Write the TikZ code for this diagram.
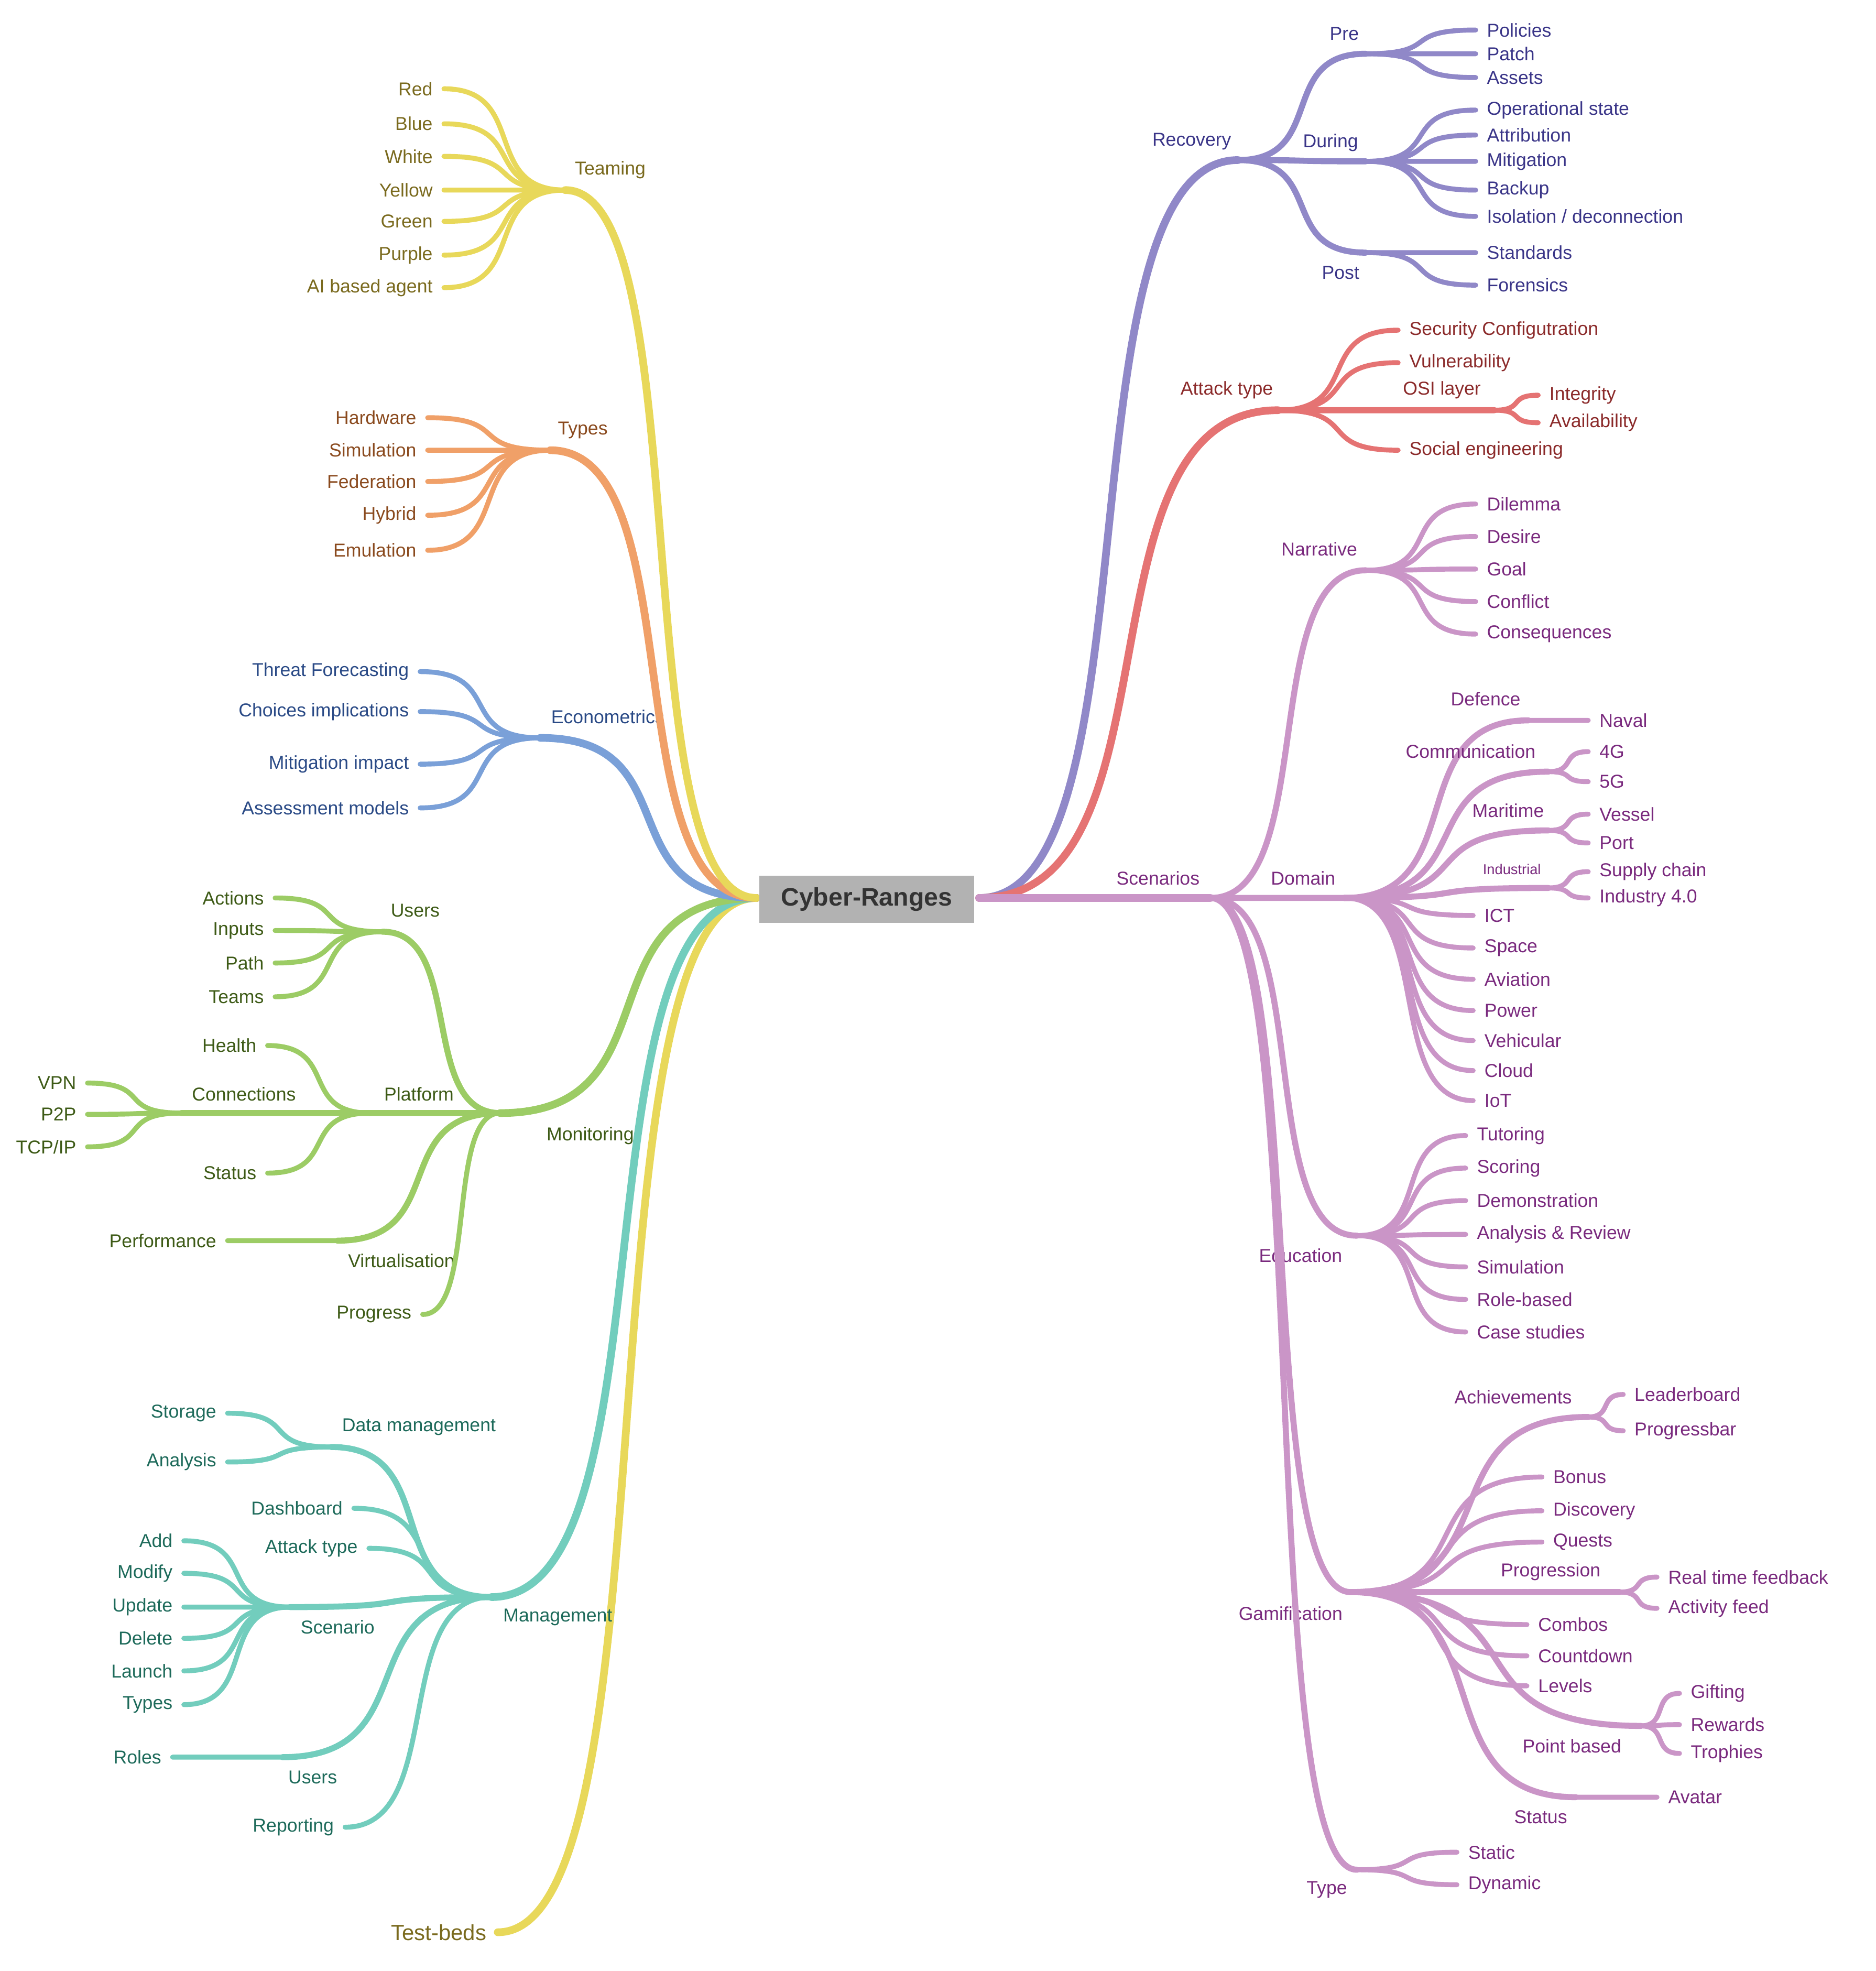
\documentclass[tikz,border=0pt]{standalone}
\usepackage{fontspec}
\setmainfont{Liberation Sans}
\usetikzlibrary{calc}
\definecolor{recC}{HTML}{9088C8}\definecolor{recT}{HTML}{3A3588}
\definecolor{attC}{HTML}{E57373}\definecolor{attT}{HTML}{8B2A2A}
\definecolor{sceC}{HTML}{CA95C7}\definecolor{sceT}{HTML}{7A2A7E}
\definecolor{teaC}{HTML}{E8D85A}\definecolor{teaT}{HTML}{7A6A1E}
\definecolor{typC}{HTML}{F0A068}\definecolor{typT}{HTML}{8A4A1E}
\definecolor{ecoC}{HTML}{7AA0D8}\definecolor{ecoT}{HTML}{2A4A86}
\definecolor{monC}{HTML}{9CCC65}\definecolor{monT}{HTML}{3D5A16}
\definecolor{manC}{HTML}{72CDBD}\definecolor{manT}{HTML}{1D6A5A}
% curved connector with horizontal ends
\newcommand{\lnk}[3][]{\draw[#1] (#2) .. controls ($(#2)!.7!(#3|-#2)$) and ($(#3)!.7!(#2|-#3)$) .. (#3);}
% leaf on the right / left side
\newcommand{\leafR}[6]{%
    \coordinate (#3) at (#4,#5);
    \node[txt,#1 txt,anchor=west] (#3-t) at (#4+8,#5) {#6};
    \lnk[#1,leaf]{#2}{#3}}
\newcommand{\leafL}[6]{%
    \coordinate (#3) at (#4,#5);
    \node[txt,#1 txt,anchor=east] (#3-t) at (#4-8,#5) {#6};
    \lnk[#1,leaf]{#2}{#3}}
% junction with a label above it
\newcommand{\knot}[8]{%
    \coordinate (#3) at (#4,#5);
    \node[txt,#1 txt] (#3-t) at (#7,#8) {#6};
    \lnk[#1,mid]{#2}{#3}}
\tikzset{
  txt/.style={inner sep=1pt,font=\fontsize{17}{20}\selectfont},
  main/.style={line width=7pt,line cap=round},
  mid/.style={line width=5.5pt,line cap=round},
  leaf/.style={line width=4.5pt,line cap=round},
  rec/.style={draw=recC},rec txt/.style={text=recT},
  att/.style={draw=attC},att txt/.style={text=attT},
  sce/.style={draw=sceC},sce txt/.style={text=sceT},
  tea/.style={draw=teaC},tea txt/.style={text=teaT},
  typ/.style={draw=typC},typ txt/.style={text=typT},
  eco/.style={draw=ecoC},eco txt/.style={text=ecoT},
  mon/.style={draw=monC},mon txt/.style={text=monT},
  man/.style={draw=manC},man txt/.style={text=manT},
}
\begin{document}
\begin{tikzpicture}[x=0.4mm,y=-0.4mm]
    \useasboundingbox (0,0) rectangle (1500,1576);
    \coordinate (rootR) at (783,718);
    \coordinate (rootL) at (605,718);
    % Recovery
    \coordinate (recovery) at (990,128);
    \node[txt,rec txt] (recovery-t) at (953,113) {Recovery};
    \lnk[rec,main]{rootR}{recovery}
    \knot{rec}{recovery}{pre}{1092}{43}{Pre}{1075}{27}
    \leafR{rec}{pre}{policies}{1180}{24}{Policies}
    \leafR{rec}{pre}{patch}{1180}{43}{Patch}
    \leafR{rec}{pre}{assets}{1180}{62}{Assets}
    \knot{rec}{recovery}{during}{1092}{129}{During}{1064}{114}
    \leafR{rec}{during}{opstate}{1180}{88}{Operational state}
    \leafR{rec}{during}{attrib}{1180}{108}{Attribution}
    \leafR{rec}{during}{mitig}{1180}{129}{Mitigation}
    \leafR{rec}{during}{backup}{1180}{152}{Backup}
    \leafR{rec}{during}{isol}{1180}{173}{Isolation / deconnection}
    \knot{rec}{recovery}{post}{1092}{202}{Post}{1072}{218}
    \leafR{rec}{post}{standards}{1180}{202}{Standards}
    \leafR{rec}{post}{forensics}{1180}{228}{Forensics}
    % Attack type
    \coordinate (attack) at (1022,328);
    \node[txt,att txt] (attack-t) at (981,312) {Attack type};
    \lnk[att,main]{rootR}{attack}
    \leafR{att}{attack}{secconf}{1118}{264}{Security Configutration}
    \leafR{att}{attack}{vuln}{1118}{290}{Vulnerability}
    \knot{att}{attack}{osi}{1195}{328}{OSI layer}{1153}{312}
    \leafR{att}{osi}{integrity}{1230}{316}{Integrity}
    \leafR{att}{osi}{avail}{1230}{338}{Availability}
    \leafR{att}{attack}{social}{1118}{360}{Social engineering}
    % Scenarios
    \coordinate (scen) at (968,718);
    \node[txt,sce txt] (scen-t) at (926,702) {Scenarios};
    \lnk[sce,main]{rootR}{scen}
    \knot{sce}{scen}{narr}{1092}{456}{Narrative}{1055}{439}
    \leafR{sce}{narr}{dilemma}{1180}{403}{Dilemma}
    \leafR{sce}{narr}{desire}{1180}{429}{Desire}
    \leafR{sce}{narr}{goal}{1180}{455}{Goal}
    \leafR{sce}{narr}{conflict}{1180}{481}{Conflict}
    \leafR{sce}{narr}{conseq}{1180}{507}{Consequences}
    \knot{sce}{scen}{domain}{1075}{718}{Domain}{1042}{702}
    \knot{sce}{domain}{defence}{1222}{576}{Defence}{1188}{559}
    \leafR{sce}{defence}{naval}{1270}{576}{Naval}
    \knot{sce}{domain}{comm}{1238}{617}{Communication}{1176}{601}
    \leafR{sce}{comm}{fourg}{1270}{601}{4G}
    \leafR{sce}{comm}{fiveg}{1270}{625}{5G}
    \knot{sce}{domain}{marit}{1238}{664}{Maritime}{1206}{648}
    \leafR{sce}{marit}{vessel}{1270}{651}{Vessel}
    \leafR{sce}{marit}{port}{1270}{674}{Port}
    \coordinate (indus) at (1238,710);
    \node[txt,sce txt,font=\fontsize{13}{15}\selectfont] (indus-t) at (1209,695) {Industrial};
    \lnk[sce,mid]{domain}{indus}
    \leafR{sce}{indus}{supply}{1270}{697}{Supply chain}
    \leafR{sce}{indus}{ind4}{1270}{718}{Industry 4.0}
    \leafR{sce}{domain}{ict}{1178}{732}{ICT}
    \leafR{sce}{domain}{space}{1178}{758}{Space}
    \leafR{sce}{domain}{aviation}{1178}{783}{Aviation}
    \leafR{sce}{domain}{power}{1178}{808}{Power}
    \leafR{sce}{domain}{vehic}{1178}{832}{Vehicular}
    \leafR{sce}{domain}{cloud}{1178}{856}{Cloud}
    \leafR{sce}{domain}{iot}{1178}{880}{IoT}
    \knot{sce}{scen}{educ}{1085}{988}{Education}{1040}{1004}
    \leafR{sce}{educ}{tutor}{1172}{908}{Tutoring}
    \leafR{sce}{educ}{scoring}{1172}{934}{Scoring}
    \leafR{sce}{educ}{demo}{1172}{960}{Demonstration}
    \leafR{sce}{educ}{analrev}{1172}{987}{Analysis \& Review}
    \leafR{sce}{educ}{simul}{1172}{1013}{Simulation}
    \leafR{sce}{educ}{role}{1172}{1039}{Role-based}
    \leafR{sce}{educ}{cases}{1172}{1065}{Case studies}
    \knot{sce}{scen}{gamif}{1080}{1273}{Gamification}{1032}{1290}
    \knot{sce}{gamif}{achiev}{1270}{1133}{Achievements}{1210}{1117}
    \leafR{sce}{achiev}{leader}{1298}{1115}{Leaderboard}
    \leafR{sce}{achiev}{progbar}{1298}{1144}{Progressbar}
    \leafR{sce}{gamif}{bonus}{1233}{1181}{Bonus}
    \leafR{sce}{gamif}{discov}{1233}{1208}{Discovery}
    \leafR{sce}{gamif}{quests}{1233}{1233}{Quests}
    \knot{sce}{gamif}{progr}{1295}{1273}{Progression}{1240}{1257}
    \leafR{sce}{progr}{rtfeed}{1325}{1261}{Real time feedback}
    \leafR{sce}{progr}{actfeed}{1325}{1286}{Activity feed}
    \leafR{sce}{gamif}{combos}{1221}{1299}{Combos}
    \leafR{sce}{gamif}{countd}{1221}{1324}{Countdown}
    \leafR{sce}{gamif}{levels}{1221}{1348}{Levels}
    \knot{sce}{gamif}{point}{1312}{1380}{Point based}{1257}{1396}
    \leafR{sce}{point}{gifting}{1343}{1354}{Gifting}
    \leafR{sce}{point}{rewards}{1343}{1379}{Rewards}
    \leafR{sce}{point}{trophies}{1343}{1402}{Trophies}
    \knot{sce}{gamif}{status}{1260}{1437}{Status}{1232}{1453}
    \leafR{sce}{status}{avatar}{1325}{1437}{Avatar}
    \knot{sce}{scen}{type}{1085}{1495}{Type}{1061}{1511}
    \leafR{sce}{type}{static}{1165}{1481}{Static}
    \leafR{sce}{type}{dynamic}{1165}{1507}{Dynamic}
    % Test-beds
    \coordinate (testbeds) at (398,1545);
    \node[txt,tea txt,anchor=east,font=\fontsize{20}{24}\selectfont] (testbeds-t) at (390,1545) {Test-beds};
    \lnk[tea,main]{rootL}{testbeds}
    % Management
    \coordinate (manag) at (393,1277);
    \node[txt,man txt] (manag-t) at (446,1293) {Management};
    \lnk[man,main]{rootL}{manag}
    \knot{man}{manag}{datam}{265}{1157}{Data management}{335}{1141}
    \leafL{man}{datam}{storage}{182}{1130}{Storage}
    \leafL{man}{datam}{analysis}{182}{1169}{Analysis}
    \leafL{man}{manag}{dashb}{283}{1206}{Dashboard}
    \leafL{man}{manag}{atttype}{295}{1238}{Attack type}
    \knot{man}{manag}{scenario}{232}{1285}{Scenario}{270}{1301}
    \leafL{man}{scenario}{add}{147}{1232}{Add}
    \leafL{man}{scenario}{modify}{147}{1258}{Modify}
    \leafL{man}{scenario}{update}{147}{1285}{Update}
    \leafL{man}{scenario}{delete}{147}{1310}{Delete}
    \leafL{man}{scenario}{launch}{147}{1336}{Launch}
    \leafL{man}{scenario}{types}{147}{1363}{Types}
    \knot{man}{manag}{musers}{226}{1405}{Users}{250}{1421}
    \leafL{man}{musers}{roles}{138}{1405}{Roles}
    \leafL{man}{manag}{report}{276}{1461}{Reporting}
    % Monitoring
    \coordinate (monit) at (400,890);
    \node[txt,mon txt] (monit-t) at (472,908) {Monitoring};
    \lnk[mon,main]{rootL}{monit}
    \knot{mon}{monit}{users}{306}{745}{Users}{332}{728}
    \leafL{mon}{users}{actions}{220}{718}{Actions}
    \leafL{mon}{users}{inputs}{220}{744}{Inputs}
    \leafL{mon}{users}{path}{220}{770}{Path}
    \leafL{mon}{users}{teams}{220}{797}{Teams}
    \knot{mon}{monit}{platf}{296}{890}{Platform}{335}{875}
    \leafL{mon}{platf}{health}{214}{836}{Health}
    \knot{mon}{platf}{conn}{145}{890}{Connections}{195}{875}
    \leafL{mon}{conn}{vpn}{70}{866}{VPN}
    \leafL{mon}{conn}{ptp}{70}{891}{P2P}
    \leafL{mon}{conn}{tcpip}{70}{917}{TCP/IP}
    \leafL{mon}{platf}{pstatus}{214}{938}{Status}
    \knot{mon}{monit}{virt}{270}{992}{Virtualisation}{321}{1008}
    \leafL{mon}{virt}{perf}{182}{992}{Performance}
    \leafL{mon}{monit}{progress}{338}{1051}{Progress}
    % Econometrics
    \coordinate (econ) at (432,590);
    \node[txt,eco txt] (econ-t) at (486,573) {Econometrics};
    \lnk[eco,main]{rootL}{econ}
    \leafL{eco}{econ}{threat}{336}{537}{Threat Forecasting}
    \leafL{eco}{econ}{choices}{336}{569}{Choices implications}
    \leafL{eco}{econ}{mitimp}{336}{611}{Mitigation impact}
    \leafL{eco}{econ}{assess}{336}{646}{Assessment models}
    % Types
    \coordinate (types) at (440,360);
    \node[txt,typ txt] (types-t) at (466,344) {Types};
    \lnk[typ,main]{rootL}{types}
    \leafL{typ}{types}{hardw}{342}{334}{Hardware}
    \leafL{typ}{types}{simu}{342}{360}{Simulation}
    \leafL{typ}{types}{feder}{342}{385}{Federation}
    \leafL{typ}{types}{hybrid}{342}{412}{Hybrid}
    \leafL{typ}{types}{emul}{342}{440}{Emulation}
    % Teaming
    \coordinate (team) at (452,152);
    \node[txt,tea txt] (team-t) at (488,136) {Teaming};
    \lnk[tea,main]{rootL}{team}
    \leafL{tea}{team}{red}{355}{71}{Red}
    \leafL{tea}{team}{blue}{355}{99}{Blue}
    \leafL{tea}{team}{white}{355}{125}{White}
    \leafL{tea}{team}{yellow}{355}{152}{Yellow}
    \leafL{tea}{team}{green}{355}{177}{Green}
    \leafL{tea}{team}{purple}{355}{204}{Purple}
    \leafL{tea}{team}{aiagent}{355}{230}{AI based agent}
    % centre
    \node[fill=black!30,minimum width=172*0.4mm,minimum height=38*0.4mm,
          text=black!80,font=\fontsize{23}{26}\selectfont\bfseries] (cr) at (693,719) {Cyber-Ranges};
\end{tikzpicture}
\end{document}
